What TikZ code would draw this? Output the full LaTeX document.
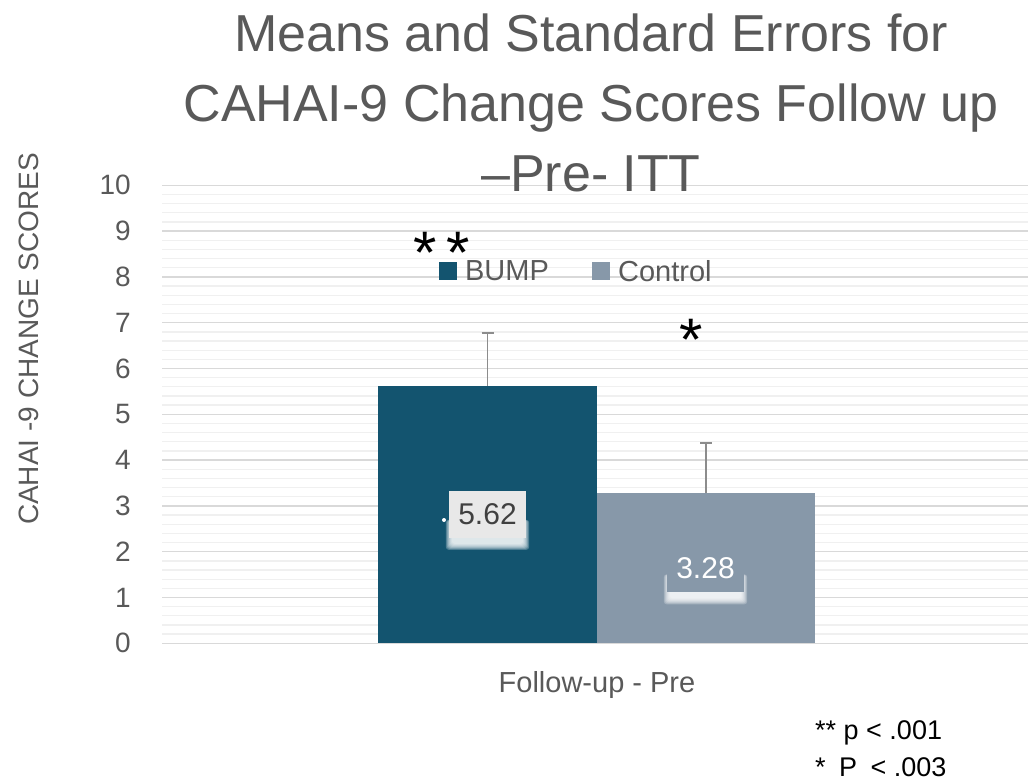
\documentclass[tikz,border=0pt]{standalone}
\usepackage{fontspec}
\setmainfont{Liberation Sans}
\usetikzlibrary{positioning,calc}
\definecolor{bumpblue}{HTML}{13546F}
\definecolor{ctrlgray}{HTML}{8798A9}
\definecolor{txtgray}{HTML}{595959}
\definecolor{majgrid}{HTML}{D9D9D9}
\definecolor{mingrid}{HTML}{F0F0F0}
\definecolor{labfill}{HTML}{E8E8E8}
\definecolor{errgray}{HTML}{8C8C8C}
\pgfdeclarelayer{bars}
\pgfdeclarelayer{glow}
\pgfsetlayers{bars,glow,main}
\newcommand{\fsz}[1]{\fontsize{#1}{#1}\selectfont}

\begin{document}
\begin{tikzpicture}[x=1pt,y=-1pt,
every node/.style={inner sep=0pt,text=txtgray},
ticklab/.style={anchor=east,font=\fsz{28}},
legsq/.style={fill=#1,minimum size=17.5pt},
legtxt/.style={font=\fsz{29},anchor=west},
vallab/.style={font=\fsz{30},minimum width=77pt,minimum height=47pt},
errbar/.style={draw=errgray,line width=1.8pt},
starlab/.style={text=black,font=\fsz{60},anchor=base}]
\useasboundingbox (0,0) rectangle (1028,781);

% title
\node[align=center,font=\fontsize{52}{70}\selectfont,anchor=base] (title) at (591,191)
 {Means and Standard Errors for\\CAHAI-9 Change Scores Follow up\\–Pre- ITT};

% value axis: 0 at y=643.3, 45.8pt per unit
\begin{scope}[shift={(0,643.3)},y=45.8pt]
 \begin{pgfonlayer}{bars}
 \foreach \k in {0,...,50}
 \draw[mingrid,line width=1.3pt] (162,\k/5) -- (1028,\k/5);
 \foreach \v in {0,...,10}
 \draw[majgrid,line width=1.5pt] (162,\v) -- (1028,\v);
 \fill[bumpblue] (378,0) rectangle (597,5.62);
 \fill[ctrlgray] (597,0) rectangle (815,3.28);
 \end{pgfonlayer}
 \foreach \v in {0,...,10}
 \node[ticklab] (tick\v) at (131,\v) {\v};
 % error bars
 \draw[errbar] (487.5,5.62) -- (487.5,6.78) (481.5,6.78) -- (493.5,6.78);
 \draw[errbar] (706,3.28) -- (706,4.37) (700,4.37) -- (712,4.37);
 % value labels
 \node[vallab,fill=labfill,text=black!75] (labB) at (487.5,2.82) {5.62};
 \node[vallab,fill=ctrlgray,text=white] (labC) at (705.5,1.63) {3.28};
\end{scope}

% white glow under the value labels
\begin{pgfonlayer}{glow}
 \foreach \l in {labB,labC}
 \foreach \k in {0,...,6}
 \fill[white,opacity=.25,rounded corners=3pt]
 ($(\l.south west)+(3-\k,-18)$) rectangle ($(\l.south east)+(-3+\k,6+\k)$);
\end{pgfonlayer}
\fill[white] (444,520) circle (2pt);

% legend
\node[legsq=bumpblue] (sqB) at (448,271) {};
\node[legtxt,right=8pt of sqB] (txB) {BUMP};
\node[legsq=ctrlgray] (sqC) at (601,271) {};
\node[legtxt,right=8pt of sqC] (txC) {Control};

% significance marks
\node[starlab] (starsB) at (442,273) {*\,*};
\node[starlab] (starC) at (691,360) {*};

% axis titles
\node[rotate=90,font=\fsz{28}] (ytitle) at (29,339) {CAHAI -9 CHANGE SCORES};
\node[font=\fsz{29}] (cat) at (597,685) {Follow-up - Pre};

% footnote
\node[anchor=west,text=black,font=\fsz{27}] (note1) at (815,733) {** p < .001};
\node[anchor=west,text=black,font=\fsz{27}] (note2) at (815,767) {*\enspace P\enspace< .003};
\end{tikzpicture}
\end{document}
